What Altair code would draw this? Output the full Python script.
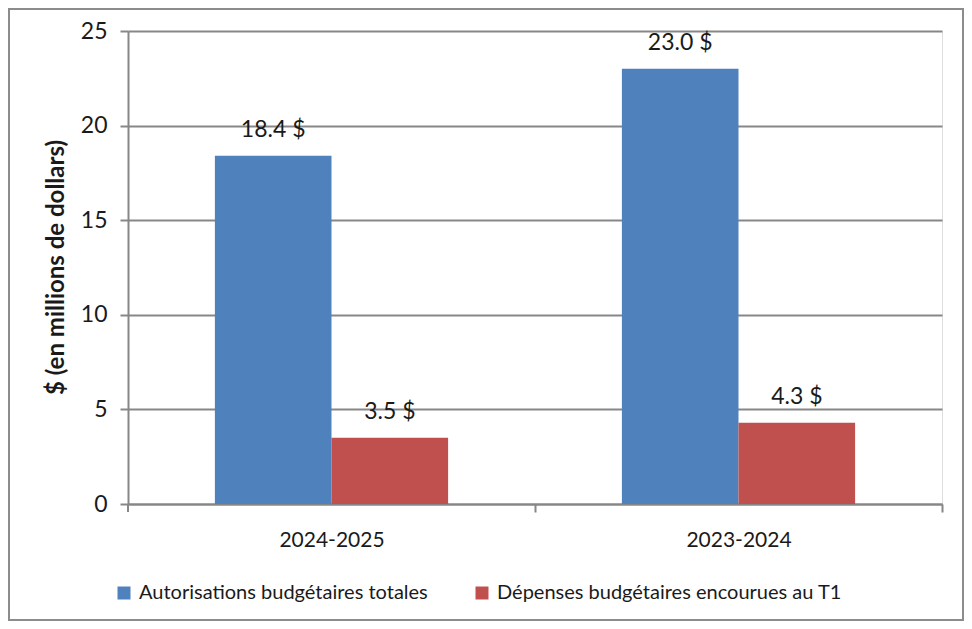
import altair as alt
import pandas as pd

periods = ["2024-2025", "2024-2025", "2023-2024", "2023-2024"]
series = ["Autorisations budgétaires totales", "Dépenses budgétaires encourues au T1",
          "Autorisations budgétaires totales", "Dépenses budgétaires encourues au T1"]
values = [18.4, 3.5, 23.0, 4.3]
period_order = ["2024-2025", "2023-2024"]
series_order = ["Autorisations budgétaires totales", "Dépenses budgétaires encourues au T1"]
colors = ["#4F81BD", "#C0504D"]
y_ticks = [0, 5, 10, 15, 20, 25]

df = pd.DataFrame({"period": periods, "series": series, "value": values})

FONT = "Lato"
GRID = "#878787"
TXT = "#1a1a1a"
STEP_HALF = 203.5

x_enc = alt.X("period:N", sort=period_order, title=None,
              scale=alt.Scale(paddingInner=0.427, paddingOuter=0.2135),
              axis=alt.Axis(labelFontSize=21, labelColor=TXT, labelFont=FONT,
                            labelAngle=0, domainColor=GRID, domainWidth=2,
                            tickColor=GRID, tickWidth=2, tickSize=8,
                            tickOffset=STEP_HALF, labelOffset=-STEP_HALF,
                            labelPadding=17, grid=False))
y_enc = alt.Y("value:Q", title="$ (en millions de dollars)",
              scale=alt.Scale(domain=[0, 25], nice=False),
              axis=alt.Axis(values=y_ticks, labelFontSize=23, labelColor=TXT,
                            labelFont=FONT, labelPadding=13, tickSize=8, tickColor=GRID,
                            tickWidth=2, domainColor=GRID, domainWidth=2,
                            gridColor=GRID, gridWidth=2,
                            titleFont=FONT, titleFontSize=24, titleFontWeight="bold",
                            titleColor=TXT, titleX=-72, titleY=236,
                            titleAngle=270, titleAlign="center", titleBaseline="middle"))
xoff = alt.XOffset("series:N", sort=series_order)

base = alt.Chart(df)

bars = base.mark_bar().encode(
    x=x_enc, y=y_enc, xOffset=xoff,
    color=alt.Color("series:N", sort=series_order,
                    scale=alt.Scale(domain=series_order, range=colors),
                    legend=alt.Legend(title=None, orient="none", legendX=-14, legendY=552,
                                      direction="horizontal", symbolType="square",
                                      symbolSize=169, symbolStrokeWidth=0,
                                      labelFont=FONT, labelFontSize=20, labelLimit=500,
                                      labelColor=TXT, labelOffset=5,
                                      columnPadding=44)),
)

labels = base.transform_calculate(
    lab="format(datum.value, '.1f') + ' $'"
).mark_text(font=FONT, fontSize=23, color=TXT, baseline="middle", dy=-26).encode(
    x=alt.X("period:N", sort=period_order),
    y="value:Q",
    xOffset=xoff,
    text="lab:N",
)

left_tick = alt.Chart(pd.DataFrame({"a": [0]})).mark_rule(
    color=GRID, strokeWidth=2
).encode(x=alt.value(0), y=alt.value(473), y2=alt.value(481))

border = alt.Chart(pd.DataFrame({"a": [0]})).mark_rect(
    filled=False, stroke="#8c8c8c", strokeWidth=2
).encode(
    x=alt.value(-119), x2=alt.value(835), y=alt.value(-22), y2=alt.value(589)
)

chart = alt.layer(bars, labels, left_tick, border).properties(
    width=814, height=473,
    autosize=alt.AutoSizeParams(type="none"),
    padding={"left": 120, "top": 23, "right": 22, "bottom": 117},
).configure_view(stroke=None).configure(background="white")

chart.save("out.html", embed_options={"renderer": "svg", "actions": False})
